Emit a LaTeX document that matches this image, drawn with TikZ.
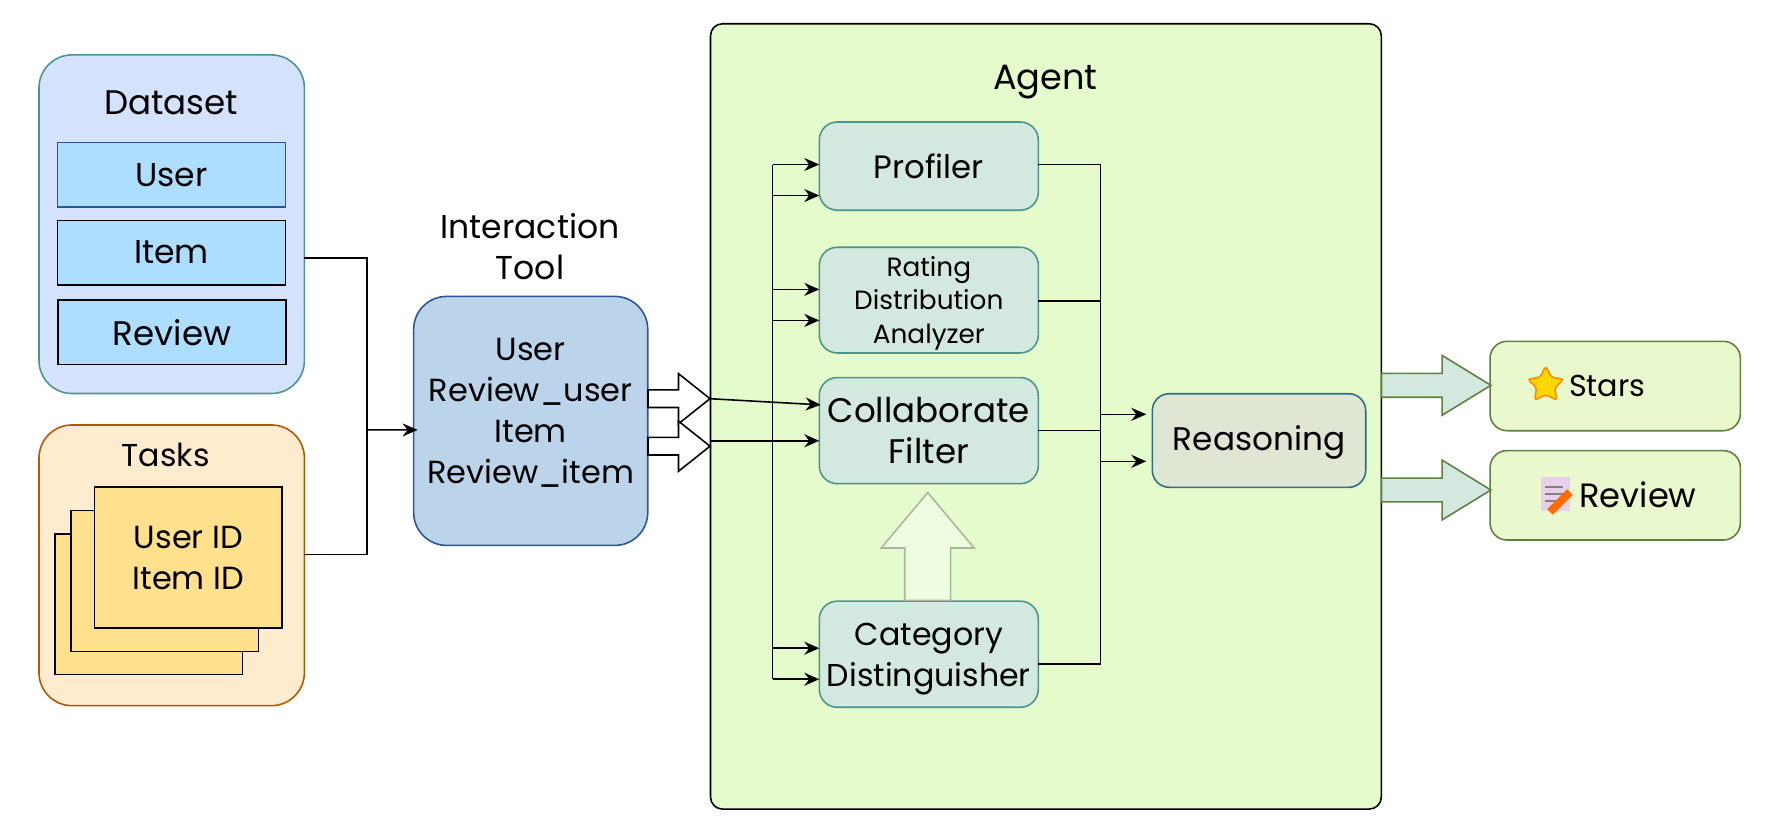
\documentclass[tikz,border=0pt]{standalone}
\usepackage{fontspec}
\setmainfont{Poppins}
\usetikzlibrary{arrows.meta}
\usetikzlibrary{shapes.geometric,shapes.arrows}
\definecolor{agentfill}{HTML}{E6FBCB}
\definecolor{datafill}{HTML}{D5E2FD}
\definecolor{skyfill}{HTML}{ADDDFF}
\definecolor{taskfill}{HTML}{FFEBCE}
\definecolor{cardfill}{HTML}{FFE08C}
\definecolor{toolfill}{HTML}{BBD4EA}
\definecolor{modfill}{HTML}{D3E8DE}
\definecolor{reasonfill}{HTML}{E0E6D4}
\definecolor{outfill}{HTML}{EAF9CD}
\definecolor{upfill}{HTML}{EFFBDF}
\definecolor{updraw}{HTML}{A9B89F}
\definecolor{reasondraw}{HTML}{2F6F85}
\definecolor{outline}{HTML}{5F8040}
\definecolor{teal}{HTML}{4A968C}
\definecolor{navy}{HTML}{2F5597}
\newcommand{\lowerline}[1]{\rule{0pt}{#1}}
\begin{document}
\begin{tikzpicture}[>={Stealth[length=.15cm,width=.13cm]},line width=.45pt,
  fs/.style={font=\fontsize{#1}{11.7}\selectfont},
  box/.style={draw,rectangle,inner sep=0,outer sep=0,align=center,fs=9.4},
  group/.style={box,rounded corners=.33cm,minimum width=2.654cm},
  field/.style={box,fill=skyfill,minimum width=2.282cm,minimum height=.644cm},
  card/.style={box,fill=cardfill,minimum width=1.874cm,minimum height=1.407cm},
  module/.style={box,draw=teal,fill=modfill,rounded corners=.18cm,minimum width=2.19cm},
  result/.style={box,draw=outline,fill=outfill,rounded corners=.17cm,minimum width=2.503cm,minimum height=.894cm},
  label/.style={inner sep=0,outer sep=0,align=center,fs=9.4},
  hollow/.style={draw,fill=white,single arrow,anchor=tip,inner xsep=0,inner ysep=.08cm,outer sep=0,minimum height=.62cm,
    single arrow head extend=.1625cm,single arrow tip angle=77},
  fat/.style={draw=outline,fill=modfill,single arrow,anchor=tip,inner xsep=0,inner ysep=.1115cm,outer sep=0,minimum height=1.093cm,
    single arrow head extend=.18cm,single arrow tip angle=63}]
\useasboundingbox (0,0) rectangle (17.72,8.27);

\node[group,draw=teal,fill=datafill,minimum height=3.386cm](dataset) at (1.717,6.028) {};
\node[label,fs=9.7](datasettitle) at (1.713,7.242) {Dataset};
\node[field,draw=navy](user) at (1.715,6.522) {User};
\node[field](item) at (1.715,5.744) {Item};
\node[field,fs=9.7](review) at (1.72,4.948) {Review};

\node[group,draw=orange!70!black,fill=taskfill,minimum height=2.807cm](tasks) at (1.717,2.617) {};
\node[label,fs=9](taskstitle) at (1.657,3.724) {Tasks};
\node[card](cardc) at (1.487,2.227) {};
\node[card](cardb) at (1.648,2.46) {};
\node[card,fs=9.1](carda) at (1.883,2.694) {User ID\\Item ID};

\node[label](tooltitle) at (5.30,5.804) {Interaction\\Tool};
\node[box,draw=navy,fill=toolfill,rounded corners=.33cm,minimum width=2.341cm,minimum height=2.49cm](tool) at (5.307,4.061) {};
\node[label,fs=9.1](toollist) at (5.307,4.14) {User\\Review\_user\\Item\\Review\_item};

\node[box,fill=agentfill,rounded corners=.12cm,minimum width=6.708cm,minimum height=7.853cm](agent) at (10.459,4.106) {};
\node[label,fs=10](agenttitle) at (10.455,7.45) {Agent};

\node[module,minimum height=.882cm,fs=9.2](profiler) at (9.288,6.609) {Profiler};
\node[module,minimum height=1.057cm,font=\fontsize{7.5}{9.5}\selectfont](rating) at (9.288,5.269) {\lowerline{.263cm}Rating\\Distribution\\Analyzer};
\node[module,minimum height=1.061cm,fs=9.7](collab) at (9.288,3.964) {Collaborate\\Filter};
\node[module,minimum height=1.061cm,fs=9](category) at (9.288,1.728) {\lowerline{.325cm}Category\\Distinguisher};
\node[box,draw=reasondraw,fill=reasonfill,rounded corners=.17cm,minimum width=2.134cm,minimum height=.936cm,fs=9.3](reasoning) at (12.59,3.865) {\lowerline{.285cm}Reasoning};

\node[result,fs=8.6](stars) at (16.152,4.41) {\hspace*{-.16cm}Stars};
\node[result,fs=9.6](reviewout) at (16.152,3.317) {\hspace*{.456cm}Review};

% icons
\node[star,star points=5,star point ratio=2,draw=orange!90!yellow,fill=yellow!75!orange,rounded corners=.03cm,inner sep=0,minimum size=.38cm](staricon) at (15.457,4.42) {};
\node[rectangle,fill=violet!18,inner sep=0,minimum width=.29cm,minimum height=.34cm](docicon) at (15.556,3.333) {};
\draw[gray,line width=.3pt] (15.45,3.40) -- (15.63,3.40);
\draw[gray,line width=.3pt] (15.45,3.33) -- (15.63,3.33);
\draw[gray,line width=.3pt] (15.45,3.26) -- (15.58,3.26);
\node[rectangle,fill=orange!85!red,rotate=45,inner sep=0,minimum width=.28cm,minimum height=.08cm](pencil) at (15.60,3.25) {};

% hollow arrows
\node[hollow](hollowa) at (7.10,4.283) {};
\node[hollow](hollowb) at (7.10,3.808) {};

% output arrows
\node[fat](fata) at (14.909,4.417) {};
\node[fat](fatb) at (14.909,3.37) {};

\node[draw=updraw,fill=upfill,single arrow,rotate=90,inner xsep=0,inner ysep=.2215cm,outer sep=0,minimum height=1.078cm,
  single arrow head extend=.235cm,single arrow tip angle=80,anchor=tip](fatup) at (9.277,3.344) {};

\coordinate(merge) at (3.668,3.971);
\coordinate(ina) at (7.727,6.625);
\coordinate(inb) at (7.727,6.315);
\coordinate(inc) at (7.727,5.376);
\coordinate(ind) at (7.727,5.066);
\coordinate(ine) at (7.727,1.788);
\coordinate(inf) at (7.727,1.478);
\coordinate(outa) at (11.003,6.625);
\coordinate(outb) at (11.003,5.262);
\coordinate(outc) at (11.003,3.964);
\coordinate(outd) at (11.003,1.633);
\coordinate(oute) at (11.003,4.127);
\coordinate(outf) at (11.003,3.657);
\coordinate(collabb) at (7.10,3.862);

\draw ([yshift=-.338cm]dataset.east) -| (merge);
\draw ([yshift=.11cm]tasks.east) -| (merge);
\draw[->] (merge) -- ([xshift=.04cm,yshift=-.09cm]tool.west);

\draw (ina) -- (inf);
\draw[->] (ina) -- (ina -| profiler.west);
\draw[->] (inb) -- (inb -| profiler.west);
\draw[->] (inc) -- (inc -| rating.west);
\draw[->] (ind) -- (ind -| rating.west);
\draw[->] (ine) -- (ine -| category.west);
\draw[->] (inf) -- (inf -| category.west);

\draw[->] (hollowa.tip) -- ([xshift=.014cm,yshift=.2575cm]collab.west);
\draw[->] (collabb) -- (collabb -| collab.west);

\draw (outa -| profiler.east) -- (outa) -- (outd) -- (outd -| category.east);
\draw (outb -| rating.east) -- (outb);
\draw (outc -| collab.east) -- (outc);
\draw[->,shorten >=.06cm] (oute) -- (oute -| reasoning.west);
\draw[->,shorten >=.06cm] (outf) -- (outf -| reasoning.west);
\end{tikzpicture}
\end{document}
